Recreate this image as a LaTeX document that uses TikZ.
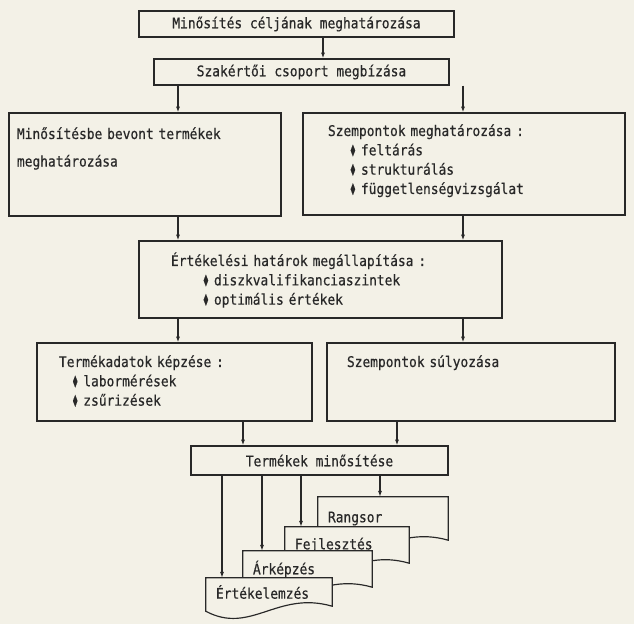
\documentclass[tikz,border=0pt]{standalone}
\usepackage{graphicx}
\usepackage{fontspec}
\setmainfont{DejaVu Sans Mono}[FakeStretch=0.88, FakeBold=0.5]
\usetikzlibrary{arrows.meta}

\definecolor{paper}{RGB}{243,241,231}
\definecolor{ink}{RGB}{40,40,40}

\newcommand{\itm}[1]{\hspace*{#1}\makebox[0.33cm][l]{\raisebox{-0.3ex}{\scalebox{0.75}[1.35]{♦}}}}

\tikzset{
  every node/.style={font=\fontsize{12.5}{16.5}\selectfont, text=ink},
  pen/.style={draw=ink, line width=1pt},
  box/.style={pen, rectangle, inner ysep=0pt, align=left},
  titlebox/.style={pen, rectangle, inner sep=0pt},
  docbox/.style={rectangle, fill=paper, inner xsep=0.3cm, inner ysep=0pt, align=left, text width=#1},
  arr/.style={pen, -{Latex[length=5pt,width=3.5pt]}},
}

\begin{document}
\begin{tikzpicture}[x=0.03cm, y=-0.03cm]
  \fill[paper] (0,0) rectangle (634,624);
  \useasboundingbox (0,0) rectangle (634,624);

  % columns of the arrows
  \coordinate (a0) at (323,0);
  \coordinate (a1) at (178,0);
  \coordinate (a2) at (463,0);
  \coordinate (a3) at (243,0);
  \coordinate (a4) at (397,0);
  \coordinate (a5) at (380,0);
  \coordinate (a6) at (301,0);
  \coordinate (a7) at (262,0);
  \coordinate (a8) at (222,0);

  \node[titlebox, minimum width=9.45cm, minimum height=0.78cm] (celja) at (296.5,24) {Minősítés céljának meghatározása};
  \node[titlebox, minimum width=8.85cm, minimum height=0.78cm] (szak) at (301.5,72) {Szakértői csoport megbízása};

  \node[box, inner xsep=0.24cm, text width=7.68cm, text height=0.78cm, text depth=2.31cm] (bevont) at (145,164.5)
    {Minősítésbe bevont termékek\\[7pt] meghatározása};
  \node[box, inner xsep=0.75cm, text width=8.16cm, text height=0.69cm, text depth=2.37cm] (szemp) at (464,164)
    {Szempontok meghatározása :\\ \itm{0.66cm}feltárás\\ \itm{0.66cm}strukturálás\\ \itm{0.66cm}függetlenségvizsgálat};

  \node[box, inner xsep=0.96cm, text width=8.97cm, text height=0.75cm, text depth=1.56cm] (ertekelesi) at (320.5,279.5)
    {Értékelési határok megállapítása :\\ \itm{0.96cm}diszkvalifikanciaszintek\\ \itm{0.96cm}optimális értékek};

  \node[box, inner xsep=0.66cm, text width=6.93cm, text height=0.72cm, text depth=1.62cm] (termadat) at (174.5,382)
    {Termékadatok képzése :\\ \itm{0.4cm}labormérések\\ \itm{0.4cm}zsűrizések};
  \node[box, inner xsep=0.6cm, text width=7.44cm, text height=0.72cm, text depth=1.62cm] (sulyoz) at (471,382)
    {Szempontok súlyozása};

  \node[titlebox, minimum width=7.71cm, minimum height=0.87cm] (termmin) at (319.5,460.5) {Termékek minősítése};

  % documents, back to front
  \node[docbox=3.3cm, minimum height=1.29cm] (rangsor) at (383,518.5) {Rangsor};
  \draw[pen] (rangsor.south west) -- (rangsor.north west) -- (rangsor.north east) -- (rangsor.south east)
    .. controls +(-55,-16) and +(45,24) .. ([shift={(0,5)}]rangsor.south west) -- cycle;
  \node[docbox=3.12cm, minimum height=1.08cm] (fejl) at (347,545) {Fejlesztés};
  \draw[pen] (fejl.south west) -- (fejl.north west) -- (fejl.north east) -- (fejl.south east)
    .. controls +(-55,-16) and +(45,24) .. ([shift={(0,5)}]fejl.south west) -- cycle;
  \node[docbox=3.27cm, minimum height=1.08cm] (arkep) at (307.5,569) {Árképzés};
  \draw[pen] (arkep.south west) -- (arkep.north west) -- (arkep.north east) -- (arkep.south east)
    .. controls +(-55,-16) and +(45,24) .. ([shift={(0,5)}]arkep.south west) -- cycle;
  \node[docbox=3.18cm, minimum height=0.84cm] (ertelem) at (269,592) {Értékelemzés};
  \draw[pen] (ertelem.south west) -- (ertelem.north west) -- (ertelem.north east) -- (ertelem.south east)
    .. controls +(-55,-16) and +(45,24) .. ([shift={(0,5)}]ertelem.south west) -- cycle;

  % arrows
  \draw[arr] (celja.south -| a0) -- (szak.north -| a0);
  \draw[arr] (szak.south -| a1) -- (bevont.north -| a1);
  \draw[arr] (szak.south -| a2) -- (szemp.north -| a2);
  \draw[arr] (bevont.south -| a1) -- (ertekelesi.north -| a1);
  \draw[arr] (szemp.south -| a2) -- (ertekelesi.north -| a2);
  \draw[arr] (ertekelesi.south -| a1) -- (termadat.north -| a1);
  \draw[arr] (ertekelesi.south -| a2) -- (sulyoz.north -| a2);
  \draw[arr] (termadat.south -| a3) -- (termmin.north -| a3);
  \draw[arr] (sulyoz.south -| a4) -- (termmin.north -| a4);
  \foreach \d/\c in {rangsor/a5, fejl/a6, arkep/a7, ertelem/a8}
    \draw[arr] (termmin.south -| \c) -- (\d.north -| \c);
\end{tikzpicture}
\end{document}
